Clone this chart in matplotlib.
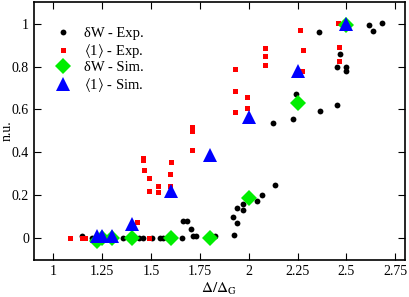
import numpy as np
import matplotlib
matplotlib.use('Agg')
import matplotlib.pyplot as plt

plt.rcParams['font.family'] = ['Liberation Serif', 'DejaVu Serif']
plt.rcParams['mathtext.fontset'] = 'stix'

# delta W - experiment (black dots)
dw_exp_x = [1.144, 1.195, 1.354, 1.44, 1.457, 1.503, 1.544, 1.56, 1.657,
            1.662, 1.683, 1.703, 1.714, 1.729, 1.826, 1.924, 1.919, 1.94,
            1.94, 1.97, 1.97, 2.04, 2.07, 2.134, 2.124, 2.227, 2.242, 2.365,
            2.36, 2.453, 2.453, 2.468, 2.50, 2.50, 2.617, 2.637, 2.684]
dw_exp_y = [0.009, 0.0, 0.0, 0.0, 0.0, 0.0, 0.0, 0.0, 0.0,
            0.083, 0.083, 0.046, 0.01, 0.01, 0.01, 0.014, 0.099, 0.07,
            0.14, 0.158, 0.13, 0.173, 0.20, 0.248, 0.535, 0.558, 0.674, 0.595,
            0.96, 0.623, 0.80, 0.86, 0.80, 0.78, 0.995, 0.964, 1.003]

# <1> - experiment (red squares)
one_exp_x = [1.087, 1.144, 1.164, 1.426, 1.49, 1.457, 1.457, 1.462, 1.488,
             1.488, 1.534, 1.534, 1.60, 1.595, 1.595, 1.708, 1.708, 1.708,
             1.929, 1.929, 1.929, 1.99, 1.99, 2.083, 2.083, 2.083, 2.263,
             2.278, 2.273, 2.458, 2.463, 2.463]
one_exp_y = [0.0, 0.002, 0.002, 0.074, 0.0, 0.373, 0.363, 0.32, 0.28,
             0.22, 0.242, 0.214, 0.355, 0.30, 0.246, 0.52, 0.50, 0.41,
             0.79, 0.684, 0.588, 0.657, 0.605, 0.884, 0.848, 0.806, 0.972,
             0.876, 0.777, 1.003, 0.89, 0.825]

# simulations
sim_x = [1.225, 1.25, 1.3, 1.4, 1.6, 1.8, 2.0, 2.25, 2.5]
dw_sim_y = [-0.01, 0.0, 0.0, 0.0, 0.0, 0.0, 0.19, 0.628, 0.995]
one_sim_y = [0.01, 0.01, 0.013, 0.065, 0.22, 0.39, 0.563, 0.778, 1.0]

fig = plt.figure(figsize=(4.09, 2.97), dpi=100)
ax = fig.add_axes([0.083, 0.125, 0.907, 0.868])

ax.plot(dw_exp_x, dw_exp_y, 'o', color='black', ms=4.2, mew=0, label='δW - Exp.')
ax.plot(one_exp_x, one_exp_y, 's', color='red', ms=3.6, mew=0, label=r'$\langle$1$\rangle$ - Exp.')
ax.plot(sim_x, dw_sim_y, 'D', color='#00ee00', ms=8.5, mew=0, label='δW - Sim.')
ax.plot(sim_x, one_sim_y, '^', color='blue', ms=10.5, mew=0, label=r'$\langle$1$\rangle$ - Sim.')

ax.set_xlim(0.9, 2.8)
ax.set_ylim(-0.1, 1.1)
ax.set_xticks([1, 1.25, 1.5, 1.75, 2, 2.25, 2.5, 2.75])
ax.set_xticklabels(['1', '1.25', '1.5', '1.75', '2', '2.25', '2.5', '2.75'])
ax.set_yticks([0, 0.2, 0.4, 0.6, 0.8, 1])
ax.set_yticklabels(['0', '0.2', '0.4', '0.6', '0.8', '1'])
ax.tick_params(direction='in', top=True, right=True, labelsize=10, length=5, width=0.8)
for s in ax.spines.values():
    s.set_linewidth(1.2)

ax.set_xlabel(r'$\Delta/\Delta_{\rm G}$', fontsize=11, labelpad=2)
ax.set_ylabel('n.u.', fontsize=10)
ax.yaxis.set_label_coords(-0.055, 0.5)

ax.legend(loc='upper left', frameon=False, fontsize=10.5, handletextpad=0.4,
          labelspacing=0.1, borderaxespad=0.6, bbox_to_anchor=(0.0, 0.96))

fig.savefig('out.png', dpi=100)
